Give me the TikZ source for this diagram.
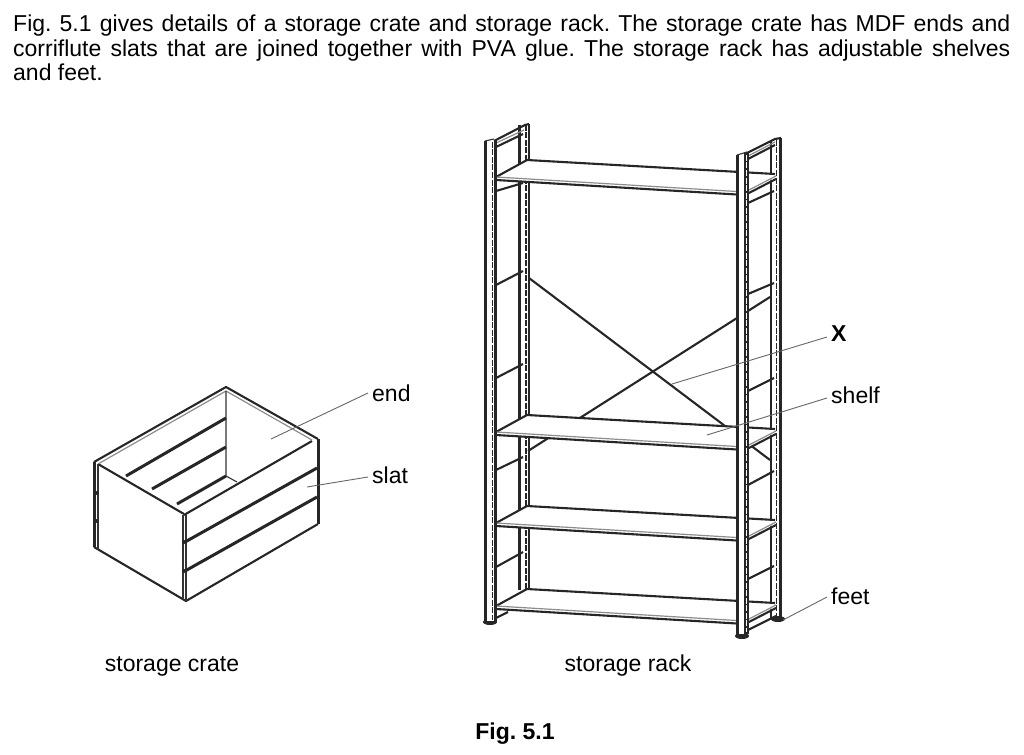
\documentclass[tikz,border=0pt]{standalone}
\usepackage{fontspec}
\setmainfont{Liberation Sans}
\frenchspacing

\tikzset{
    heavy/.style={black!85, line width=3pt},
    medium/.style={black!85, line width=2.1pt},
    thin line/.style={black!80, line width=1.1pt},
    rim/.style={black!45, line width=1.2pt},
    slot/.style={black!85, line width=1.9pt, dash pattern=on 6pt off 1.5pt},
    leader/.style={black!60, line width=0.9pt},
    lbl/.style={inner sep=0pt, font=\fontsize{23}{27}\selectfont},
}

\begin{document}
\begin{tikzpicture}[x=1pt, y=-1pt]
    \useasboundingbox (0, 0) rectangle (1024, 754);

    % intro text
    \node (introtext) [anchor=north west, inner sep=0pt, text width=997pt, align=justify,
        font=\fontsize{23}{24.5}\selectfont] at (13, 15)
        {Fig. 5.1 gives details of a storage crate and storage rack. The storage crate has MDF ends and corriflute slats that are joined together with PVA glue. The storage rack has adjustable shelves\linebreak and feet.};

    % crate
    \draw[medium, line join=round] (94, 462) -- (226, 387) -- (318, 439);
    \draw[medium] (94, 547) -- (186, 601) -- (318, 524);
    \draw[heavy] (94, 462) -- (94, 547);
    \draw[heavy] (318, 439) -- (318, 524);
    \draw[medium] (98, 464) -- (184, 514);
    \draw[medium] (184, 515) -- (312, 441);
    \draw[rim] (98, 464) -- (226, 391) -- (312, 440);
    \draw[thin line] (226, 391) -- (226, 476) -- (237, 482);
    \foreach \y/\xa/\ya in {418/126/476, 447/152/489, 476/177/504}{ \draw[heavy] (226, \y) -- (\xa, \ya); }
    \draw[thin line] (186, 515) -- (186, 601);
    \draw[thin line] (183, 515) -- (183, 598);
    \draw[thin line] (98, 464) -- (98, 550);
    \foreach \y in {468, 497}{ \draw[heavy] (317, \y) -- (185, \y+74); }
    \foreach \y in {493, 521}{ \fill[black!85] (97, \y) circle (2); }
    \foreach \y in {542, 571}{ \fill[black!85] (184, \y) circle (2); }

    % back posts, side bars and cross bracing of the rack
    \draw[medium] (519.5, 125) -- (519.5, 590);
    \draw[medium] (529, 124) -- (529, 590);
    \draw[slot] (526, 125) -- (526, 590);
    \draw[medium] (771, 142) -- (771, 619);
    \draw[heavy] (780, 138) -- (780, 619);
    \draw[slot] (776.5, 140) -- (776.5, 617);
    \foreach \ya/\yb in {191/183, 285/271, 378/364, 470/457, 567/552}{ \draw[medium] (496, \ya) -- (523, \yb); }
    \foreach \ya/\yb in {203/191, 294/283, 391/378, 485/471, 579/566}{ \draw[medium] (748, \ya) -- (774, \yb); }
    \draw[medium] (529, 278) -- (770, 460);
    \draw[medium] (528, 451) -- (770, 297);

    % top rails
    \draw[medium] (494, 141) -- (525, 125) -- (529, 124);
    \draw[medium] (496, 147) -- (523, 134);
    \draw[medium] (745, 154) -- (775, 139) -- (781, 138);
    \draw[medium] (748, 159) -- (775, 145);
    \draw[rim] (496, 143) -- (524, 130);
    \draw[rim] (748, 156) -- (775, 142);

    % shelves
    \foreach \dy in {0, 255, 346, 429}{
        \fill[white] (496, 177+\dy) -- (527, 160+\dy) -- (775, 174+\dy) -- (776, 177+\dy) -- (745, 195+\dy) -- (496, 180+\dy) -- cycle;
        \draw[medium] (496, 177+\dy) -- (527, 160+\dy) -- (775, 174+\dy);
        \draw[rim] (496, 177+\dy) -- (745, 192+\dy) -- (776, 176+\dy);
        \draw[medium] (496, 180+\dy) -- (745, 195+\dy) -- (776, 179+\dy);
    }
    \draw[medium] (496, 618) -- (508, 612);
    \draw[medium] (748, 630) -- (776, 616);

    % feet
    \fill[black!85] (490, 622) ellipse (7 and 3);
    \fill[black!85] (742, 636) ellipse (7 and 3);
    \fill[black!85] (778, 619) ellipse (7 and 3);

    % front posts
    \fill[white] (485, 142) rectangle (495, 621);
    \fill[white] (737, 155) rectangle (747, 634);
    \draw[heavy] (485.5, 141) -- (485.5, 622);
    \draw[medium] (495.5, 140) -- (495.5, 622);
    \draw[slot] (492.5, 142) -- (492.5, 620);
    \draw[heavy] (737, 155) -- (737, 636);
    \draw[line width=4.5pt, black!85] (746.5, 152) -- (746.5, 634);
    \draw[slot, white, line width=0.8pt] (746.5, 155) -- (746.5, 632);
    \draw[thin line] (485, 141) -- (494, 139);
    \draw[thin line] (737, 155) -- (747, 152);

    % labels
    \node (endlbl) [lbl, anchor=west] at (372, 393) {end};
    \node (slatlbl) [lbl, anchor=west] at (372, 475) {slat};
    \node (xlbl) [lbl, anchor=west, font=\fontsize{23}{27}\selectfont\bfseries] at (831, 334) {X};
    \node (shelflbl) [lbl, anchor=west] at (831, 395) {shelf};
    \node (feetlbl) [lbl, anchor=west] at (831, 596) {feet};
    \node (cratelbl) [lbl] at (172, 666) {storage crate};
    \node (racklbl) [lbl] at (628, 666) {storage rack};
    \node (figlbl) [lbl, font=\fontsize{23}{27}\selectfont\bfseries] at (515, 734) {Fig. 5.1};

    \coordinate (endtip) at (271, 439);
    \coordinate (slattip) at (307, 487);
    \coordinate (xtip) at (672, 384);
    \coordinate (shelftip) at (707, 435);
    \coordinate (feettip) at (783, 620);
    \draw[leader] (endlbl.west) ++(-4, 0) -- (endtip);
    \draw[leader] (slatlbl.west) ++(-4, 2) -- (slattip);
    \draw[leader] (xlbl.west) ++(-4, 3) -- (xtip);
    \draw[leader] (shelflbl.west) ++(-4, 3) -- (shelftip);
    \draw[leader] (feetlbl.west) ++(-4, 1) -- (feettip);
\end{tikzpicture}
\end{document}
